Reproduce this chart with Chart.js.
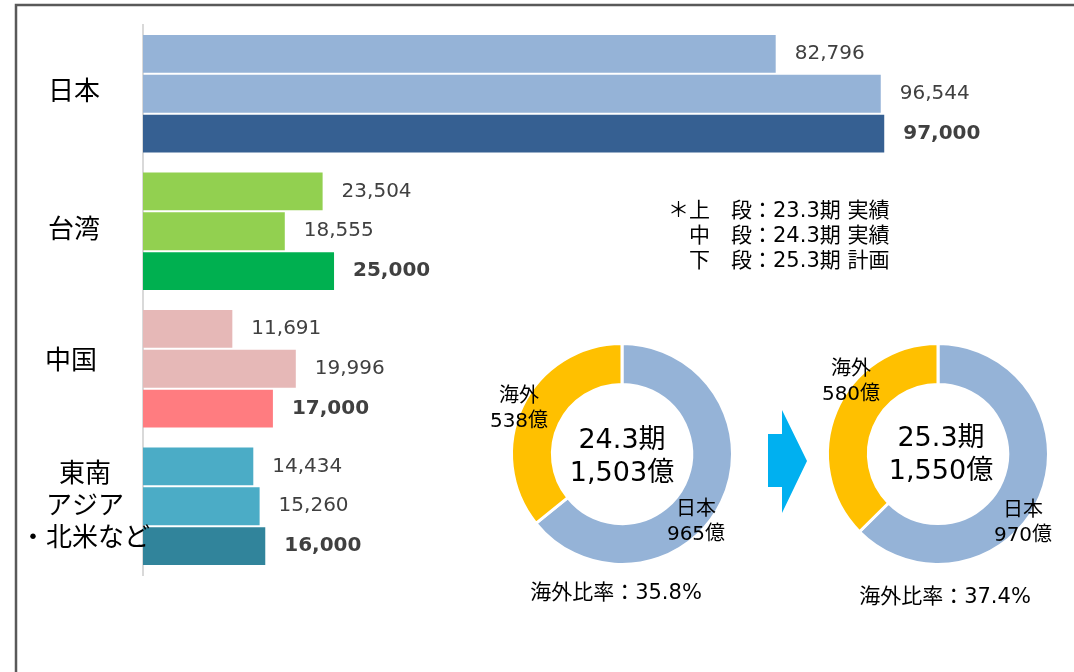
<!DOCTYPE html>
<html lang="ja">
<head>
<meta charset="utf-8">
<script src="https://cdn.jsdelivr.net/npm/chart.js@4"></script>
<style>
  html, body { margin: 0; padding: 0; background: #fff; overflow: hidden; }
  #wrap { position: relative; width: 1074px; height: 672px; overflow: hidden; }
  canvas { position: absolute; }
</style>
</head>
<body>
<div id="wrap">
  <canvas id="bars" width="1074" height="672" style="left:0;top:0"></canvas>
  <canvas id="pie24" width="300" height="340" style="left:472px;top:304px"></canvas>
  <canvas id="pie25" width="300" height="340" style="left:788px;top:304px"></canvas>
</div>
<script>
// bar chart data (上段 / 中段 / 下段)
const regions = ["日本", "台湾", "中国", ["東南", "アジア", "・北米など"]];
const fy23 = [82796, 23504, 11691, 14434];
const fy24 = [96544, 18555, 19996, 15260];
const fy25 = [97000, 25000, 17000, 16000];
const lightColors = ["#95B3D7", "#92D050", "#E6B8B7", "#4BACC6"];
const darkColors = ["#366092", "#00B050", "#FF7C80", "#31849B"];

// doughnut data
const pieLabels = ["日本", "海外"];
const pie24 = [965, 538];
const pie25 = [970, 580];
const pieColors = ["#95B3D7", "#FFC000"];
const periods = ["24.3期", "25.3期"];

const notes = ["＊上　段：23.3期 実績", "中　段：24.3期 実績", "下　段：25.3期 計画"];

const LATIN = '"DejaVu Sans", "Noto Sans CJK JP", sans-serif';
const JP = '"Noto Sans CJK JP", sans-serif';

const barText = {
  id: "barText",
  beforeDraw(chart) {
    // outer frame (top + left only)
    const ctx = chart.ctx;
    ctx.save();
    ctx.strokeStyle = "#595959";
    ctx.lineWidth = 2.5;
    ctx.beginPath();
    ctx.moveTo(16, 672);
    ctx.lineTo(16, 5);
    ctx.lineTo(1074, 5);
    ctx.stroke();
    ctx.restore();
  },
  afterDatasetsDraw(chart) {
    const ctx = chart.ctx;
    ctx.save();
    ctx.textBaseline = "middle";
    ctx.textAlign = "left";
    ctx.fillStyle = "#404040";
    chart.data.datasets.forEach((ds, di) => {
      ctx.font = (di === 2 ? "bold " : "") + "20px " + LATIN;
      chart.getDatasetMeta(di).data.forEach((bar, i) => {
        ctx.fillText(ds.data[i].toLocaleString("en-US"), bar.x + 19, bar.y);
      });
    });

    // category labels, nudged a bit like the original
    const yScale = chart.scales.y;
    const labelX = [74, 74, 71, 85];
    const labelDy = [-4, -3, -10, -2];
    ctx.font = "26px " + JP;
    ctx.fillStyle = "#000";
    ctx.textAlign = "center";
    regions.forEach((lab, i) => {
      const lines = Array.isArray(lab) ? lab : [lab];
      const cy = yScale.getPixelForValue(i) + labelDy[i];
      lines.forEach((t, k) => {
        ctx.fillText(t, labelX[i], cy + (k - (lines.length - 1) / 2) * 32);
      });
    });
    ctx.restore();
  },
  afterDraw(chart) {
    const ctx = chart.ctx;
    ctx.save();
    // legend note
    ctx.font = "21px " + LATIN;
    ctx.fillStyle = "#000";
    ctx.textBaseline = "middle";
    ctx.textAlign = "left";
    notes.forEach((t, i) => {
      ctx.fillText(t, i === 0 ? 668 : 689, 212 + i * 25);
    });
    // arrow between doughnuts
    ctx.fillStyle = "#00B0F0";
    ctx.beginPath();
    ctx.moveTo(768, 434);
    ctx.lineTo(782, 434);
    ctx.lineTo(782, 410);
    ctx.lineTo(807, 461);
    ctx.lineTo(782, 513);
    ctx.lineTo(782, 487);
    ctx.lineTo(768, 487);
    ctx.closePath();
    ctx.fill();
    ctx.restore();
  },
};

new Chart(document.getElementById("bars"), {
  type: "bar",
  data: {
    labels: regions,
    datasets: [
      { label: "23.3期 実績", data: fy23, backgroundColor: lightColors },
      { label: "24.3期 実績", data: fy24, backgroundColor: lightColors },
      { label: "25.3期 計画", data: fy25, backgroundColor: darkColors },
    ],
  },
  options: {
    indexAxis: "y",
    responsive: false,
    animation: false,
    datasets: { bar: { categoryPercentage: 0.87, barPercentage: 0.95 } },
    layout: { padding: { left: 143, right: 14, top: 25, bottom: 97 } },
    scales: {
      x: { display: false, min: 0, max: 120000 },
      y: {
        display: true,
        grid: { display: false, drawTicks: false },
        ticks: { display: false },
        border: { display: true, color: "#D9D9D9", width: 2 },
        afterFit: (s) => { s.width = 0; },
      },
    },
    plugins: { legend: { display: false }, tooltip: { enabled: false } },
  },
  plugins: [barText],
});

const pieText = {
  id: "pieText",
  afterDraw(chart, args, opts) {
    const arc = chart.getDatasetMeta(0).data[0];
    const cx = arc.x, cy = arc.y;
    const vals = chart.data.datasets[0].data;
    const total = vals[0] + vals[1];
    const ctx = chart.ctx;
    ctx.save();
    ctx.fillStyle = "#000";
    ctx.textAlign = "center";
    ctx.textBaseline = "middle";

    ctx.font = "27px " + LATIN;
    ctx.fillText(opts.period, cx + opts.centerAt[0], cy + opts.centerAt[1]);
    ctx.fillText(total.toLocaleString("en-US") + "億", cx + opts.centerAt[0], cy + opts.centerAt[1] + 33);

    ctx.font = "20px " + LATIN;
    chart.data.labels.forEach((lab, i) => {
      const [dx, dy] = opts.labelAt[i];
      ctx.fillText(lab, cx + dx, cy + dy);
      ctx.fillText(vals[i] + "億", cx + dx, cy + dy + 25);
    });

    ctx.font = "21px " + LATIN;
    const ratio = (vals[1] / total * 100).toFixed(1);
    ctx.fillText("海外比率：" + ratio + "%", cx + opts.ratioAt[0], cy + opts.ratioAt[1]);
    ctx.restore();
  },
};

const makePie = (id, values, textOpts) => {
  return new Chart(document.getElementById(id), {
    type: "doughnut",
    data: {
      labels: pieLabels,
      datasets: [{
        data: values,
        backgroundColor: pieColors,
        borderColor: "#fff",
        borderWidth: 3,
      }],
    },
    options: {
      responsive: false,
      animation: false,
      cutout: "63%",
      layout: { padding: { left: 38, right: 38, top: 38, bottom: 78 } },
      plugins: {
        legend: { display: false },
        tooltip: { enabled: false },
        pieText: textOpts,
      },
    },
    plugins: [pieText],
  });
};

makePie("pie24", pie24, {
  period: periods[0],
  centerAt: [0, -13],
  labelAt: [[74, 56], [-103, -57]],
  ratioAt: [-6, 140],
});
makePie("pie25", pie25, {
  period: periods[1],
  centerAt: [3, -15],
  labelAt: [[85, 57], [-87, -84]],
  ratioAt: [7, 144],
});
</script>
</body>
</html>
